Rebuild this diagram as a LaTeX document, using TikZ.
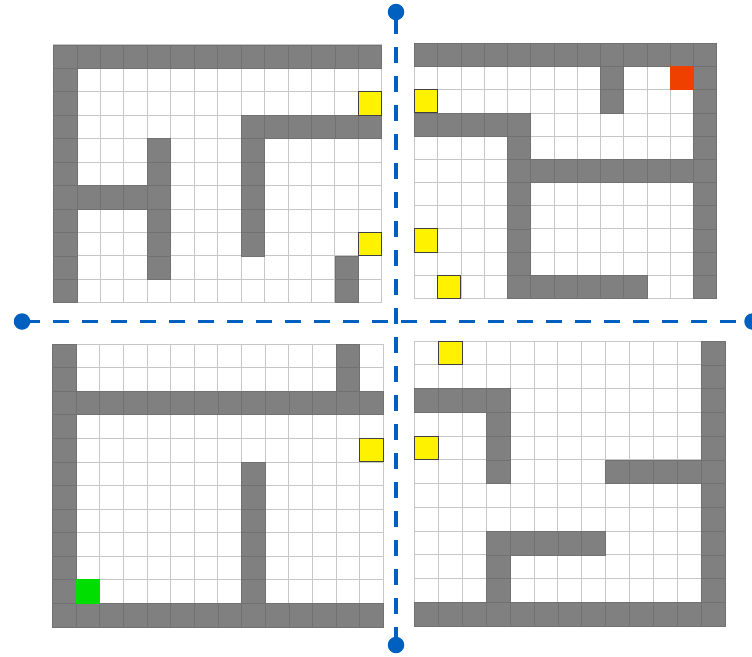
\documentclass[tikz,border=0pt]{standalone}
\usepackage{xcolor}
\usepackage{tikz}
\usetikzlibrary{positioning}
\definecolor{wallgray}{RGB}{128,128,128}
\definecolor{axisblue}{RGB}{0,96,192}
\definecolor{goalred}{RGB}{240,64,0}
\definecolor{startgreen}{RGB}{0,221,0}
\newcommand{\mazegrid}[2]{%
  \fill[white] (0,0) rectangle (#1,#2);
  \foreach \ci in {0,...,#1} \draw[gridline] (\ci,0) -- (\ci,#2);
  \foreach \ri in {0,...,#2} \draw[gridline] (0,\ri) -- (#1,\ri);}
\newcommand{\hwall}[3]{\foreach \ci in {#2,...,#3} \draw[wallcell] (\ci,#1) rectangle ++(1,1);}
\newcommand{\vwall}[3]{\foreach \ri in {#2,...,#3} \draw[wallcell] (#1,\ri) rectangle ++(1,1);}

\begin{document}
\begin{tikzpicture}[
  x=1pt, y=-1pt,
  gridline/.style={draw=black!22, line width=0.6pt},
  wallcell/.style={fill=wallgray, draw=wallgray!88!black, line width=0.4pt},
  keycell/.style={fill=yellow, draw=black!75, line width=0.8pt},
  goalcell/.style={fill=goalred, draw=goalred},
  startcell/.style={fill=startgreen, draw=startgreen},
  axisline/.style={draw=axisblue, line width=3.8pt, dash pattern=on 16pt off 13pt},
  axisdot/.style={circle, fill=axisblue, inner sep=0pt, minimum size=16.5pt}
]
  \useasboundingbox (0,0) rectangle (752,656);

  % top left room
  \begin{scope}[shift={(53.3pt,-44.7pt)}, x=23.45pt, y=-23.45pt]
    \mazegrid{14}{11}
    \hwall{0}{0}{13}
    \vwall{0}{1}{10}
    \hwall{3}{8}{13}
    \vwall{8}{4}{8}
    \vwall{4}{4}{9}
    \hwall{6}{1}{3}
    \vwall{12}{9}{10}
    \draw[keycell] (13,2) rectangle ++(1,1);
    \draw[keycell] (13,8) rectangle ++(1,1);
  \end{scope}

  % top right room
  \begin{scope}[shift={(414.3pt,-43.3pt)}, x=23.26pt, y=-23.18pt]
    \mazegrid{13}{11}
    \hwall{0}{0}{12}
    \vwall{12}{1}{10}
    \vwall{8}{1}{2}
    \hwall{3}{0}{4}
    \vwall{4}{4}{10}
    \hwall{5}{5}{11}
    \hwall{10}{5}{9}
    \draw[goalcell] (11,1) rectangle ++(1,1);
    \draw[keycell] (0,2) rectangle ++(1,1);
    \draw[keycell] (0,8) rectangle ++(1,1);
    \draw[keycell] (1,10) rectangle ++(1,1);
  \end{scope}

  % bottom left room
  \begin{scope}[shift={(52.3pt,-344pt)}, x=23.64pt, y=-23.56pt]
    \mazegrid{14}{12}
    \vwall{0}{0}{11}
    \vwall{12}{0}{1}
    \hwall{2}{1}{13}
    \vwall{8}{5}{10}
    \hwall{11}{1}{13}
    \draw[startcell] (1,10) rectangle ++(1,1);
    \draw[keycell] (13,4) rectangle ++(1,1);
  \end{scope}

  % bottom right room
  \begin{scope}[shift={(414.3pt,-341pt)}, x=23.9pt, y=-23.75pt]
    \mazegrid{13}{12}
    \vwall{12}{0}{11}
    \hwall{11}{0}{11}
    \hwall{2}{0}{3}
    \vwall{3}{3}{5}
    \hwall{5}{8}{11}
    \hwall{8}{3}{7}
    \vwall{3}{9}{10}
    \draw[keycell] (1,0) rectangle ++(1,1);
    \draw[keycell] (0,4) rectangle ++(1,1);
  \end{scope}

  % dividing axes
  \node[axisdot] (north) at (396,12) {};
  \node[axisdot] (south) at (396,645) {};
  \node[axisdot] (west) at (22,321.5) {};
  \node[axisdot] (east) at (752.5,321.5) {};
  \draw[axisline, dash phase=23pt] (north.center) -- (south.center);
  \draw[axisline, dash phase=27pt] (west.center) -- (east.center);
\end{tikzpicture}
\end{document}
